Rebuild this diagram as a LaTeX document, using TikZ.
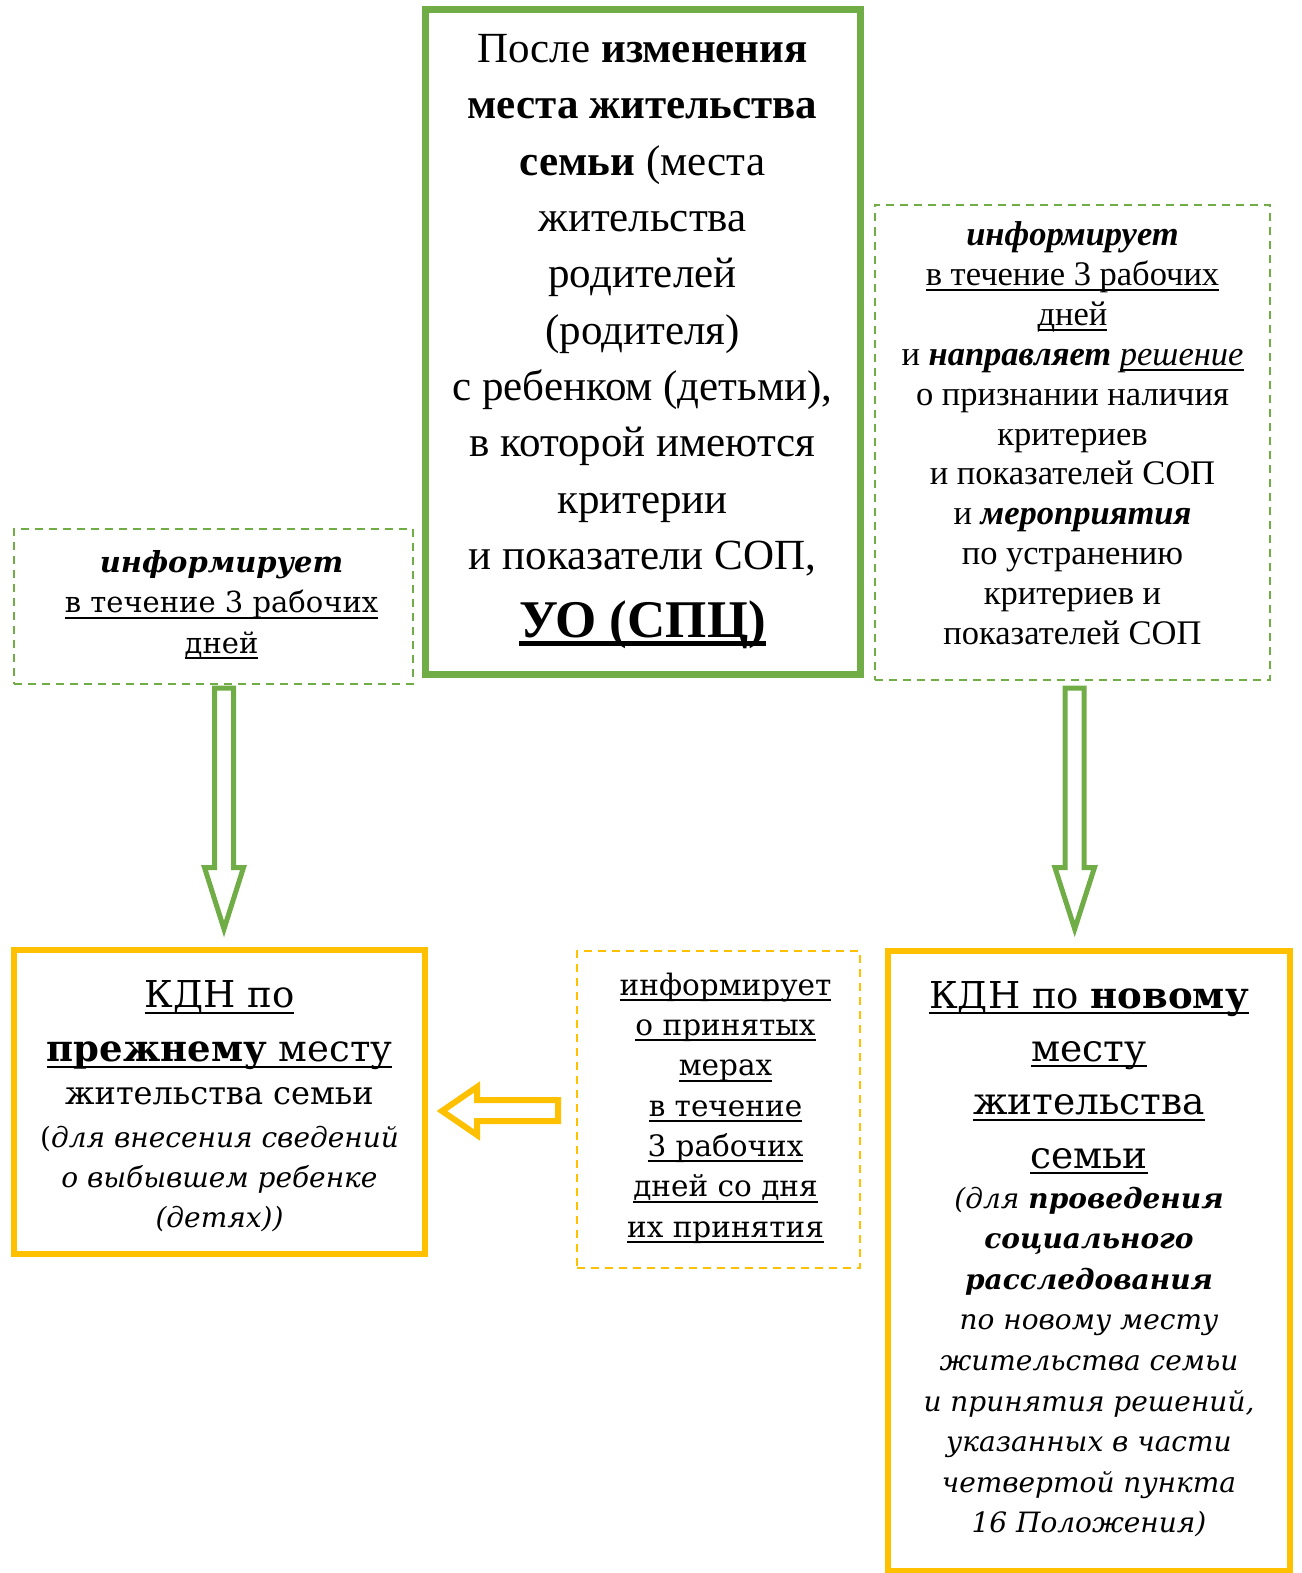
\documentclass[tikz,border=0pt]{standalone}
\usepackage{fontspec}
\setmainfont{Liberation Serif}
\newfontfamily\cam{DejaVu Serif}
\newdimen\uldp \uldp=6pt
\newdimen\ulth \ulth=2pt
\newcommand{\myul}[1]{\leavevmode\setbox0=\hbox{#1}\rlap{\rule[-\uldp]{\wd0}{\ulth}}\box0\relax}
\AtBeginDocument{\lineskiplimit=-1000pt\lineskip=0pt}
\definecolor{gr}{HTML}{70AD47}
\definecolor{ye}{HTML}{FFC000}
\newcommand{\topstrut}[1]{\rule{0pt}{#1}}
\newcommand{\botstrut}[1]{\rule[-#1]{0pt}{#1}}
\newcommand{\boxsetup}[1]{\centering\parskip=0pt\spaceskip=0pt\xspaceskip=0pt\leftskip=#1 plus 1fil\rightskip=0pt plus 1fil\parfillskip=0pt}
\begin{document}
\begin{tikzpicture}[x=1pt,y=-1pt,
  box/.style={draw, inner sep=0pt, outer sep=0pt},
  thickgreen/.style={box, draw=gr, line width=7pt},
  dashgreen/.style={box, draw=gr, line width=2pt, dash pattern=on 8pt off 6pt},
  thickyellow/.style={box, draw=ye, line width=6pt},
  dashyellow/.style={box, draw=ye, line width=2pt, dash pattern=on 8pt off 6pt},
  greenarrow/.style={draw=gr, line width=5pt, fill=white, line join=miter},
  yellowarrow/.style={draw=ye, line width=6pt, fill=white, line join=miter}]
\useasboundingbox (0,0) rectangle (1301,1573);

% main box
\node[thickgreen, text width=435pt] (main) at (642.5,342) {\fontsize{43}{56.3}\selectfont\boxsetup{0pt}%
\topstrut{53.5pt}После \textbf{изменения}\\
\textbf{места жительства}\\
\textbf{семьи} (места\\
жительства\\
родителей\\
(родителя)\\
с ребенком (детьми),\\
в которой имеются\\
критерии\\
и показатели СОП,\\[11.7pt]
{\fontsize{53}{56}\selectfont\ulth=5pt\uldp=9pt\myul{\textbf{УО (СПЦ)}}}\botstrut{37.5pt}\par};

% right dashed box
\node[dashgreen, text width=395pt] (rinfo) at (1072.5,442) {\fontsize{34.5}{39.9}\selectfont\boxsetup{0pt}%
\topstrut{41pt}\textbf{\textit{информирует}}\\
\myul{в течение 3 рабочих}\\
\myul{дней}\\
и \textbf{\textit{направляет}} \myul{\textit{решение}}\\
о признании наличия\\
критериев\\
и показателей СОП\\
и \textbf{\textit{мероприятия}}\\
по устранению\\
критериев и\\
показателей СОП\botstrut{35pt}\par};

% left dashed box
\node[dashgreen, text width=399pt] (linfo) at (213.5,606.5) {\cam\fontsize{29}{40.5}\selectfont\boxsetup{16pt}%
\topstrut{43pt}\textbf{\textit{информирует}}\\
\myul{в течение 3 рабочих}\\
\myul{дней}\botstrut{31pt}\par};

% bottom left box
\node[thickyellow, text width=411pt] (old) at (219.5,1102) {\cam\fontsize{28}{40}\selectfont\boxsetup{0pt}%
\topstrut{57.5pt}{\fontsize{37}{40}\selectfont\myul{КДН по}}\\[14pt]
{\fontsize{37}{40}\selectfont\myul{\textbf{прежнему} месту}}\\[3pt]
{\fontsize{32}{40}\selectfont жительства семьи}\\[3pt]
(\textit{для внесения сведений}\\
\textit{о выбывшем ребенке}\\
\textit{(детях))}\botstrut{26.5pt}\par};

% middle dashed box
\node[dashyellow, text width=283pt] (minfo) at (718.5,1109.5) {\cam\fontsize{29.5}{40.33}\selectfont\boxsetup{14pt}%
\topstrut{44pt}\myul{информирует}\\
\myul{о принятых}\\
\myul{мерах}\\
\myul{в течение}\\
\myul{3 рабочих}\\
\myul{дней со дня}\\
\myul{их принятия}\botstrut{31pt}\par};

% bottom right box
\node[thickyellow, text width=402pt] (new) at (1089,1261) {\cam\fontsize{28}{40.6}\selectfont\boxsetup{0pt}%
\topstrut{57pt}{\fontsize{37}{40}\selectfont\myul{КДН по \textbf{новому}}}\\[12.7pt]
{\fontsize{37.5}{40}\selectfont\myul{месту}}\\[12.7pt]
{\fontsize{37.5}{40}\selectfont\myul{жительства}}\\[12.7pt]
{\fontsize{37.5}{40}\selectfont\myul{семьи}}\\[-0.6pt]
\textit{(для \textbf{проведения}}\\
\textbf{\textit{социального}}\\
\textbf{\textit{расследования}}\\
\textit{по новому месту}\\
\textit{жительства семьи}\\
\textit{и принятия решений,}\\
\textit{указанных в части}\\
\textit{четвертой пункта}\\
\textit{16 Положения)}\botstrut{38pt}\par};

% block arrows
\draw[greenarrow] (214.5,688) -- (233.5,688) -- (233.5,867.5) -- (243.5,867.5)
  -- (224,929) -- (204.5,867.5) -- (214.5,867.5) -- cycle;
\draw[greenarrow] (1065.2,688) -- (1084.2,688) -- (1084.2,867.5) -- (1094.5,867.5)
  -- (1074.7,929) -- (1054.9,867.5) -- (1065.2,867.5) -- cycle;
\draw[yellowarrow] (558,1100) -- (477,1100) -- (477,1087) -- (442,1111)
  -- (477,1135) -- (477,1121) -- (558,1121) -- cycle;
\end{tikzpicture}
\end{document}
